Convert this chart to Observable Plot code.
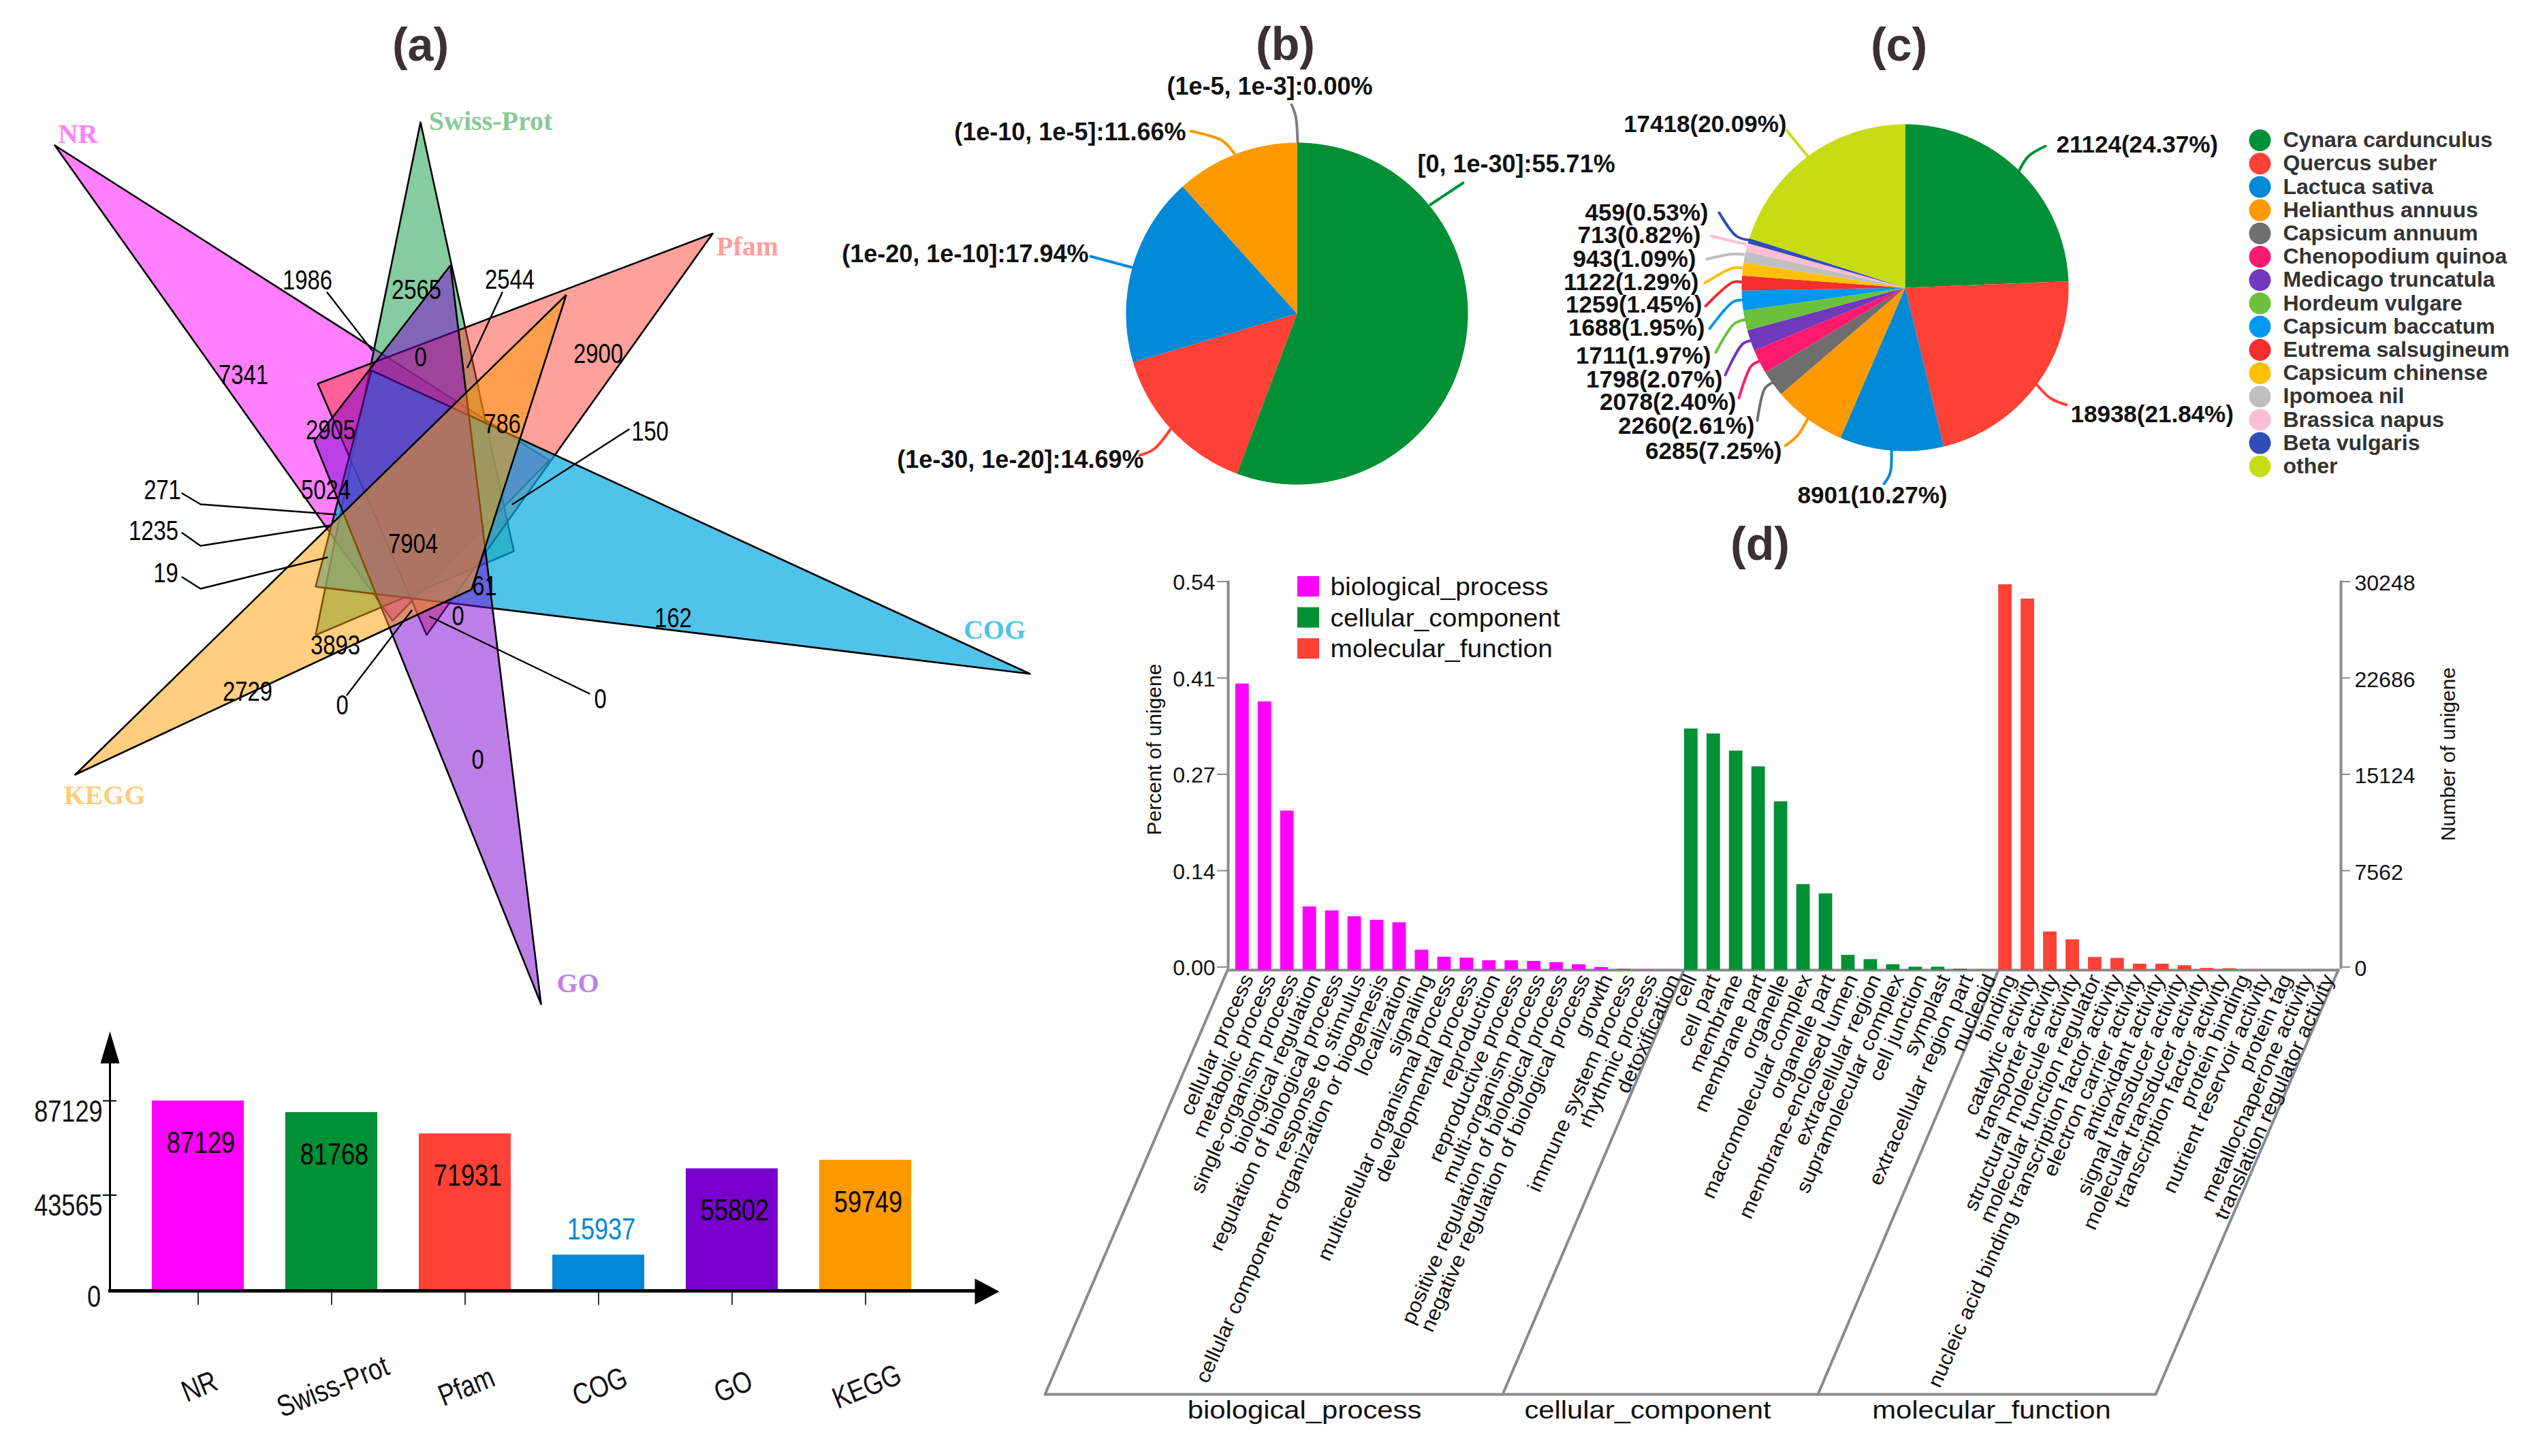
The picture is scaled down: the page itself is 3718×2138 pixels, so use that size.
<!DOCTYPE html>
<html><head><meta charset="utf-8">
<style>
html,body{margin:0;padding:0;background:#fff;overflow:hidden}
#page{position:relative;width:3718px;height:2138px;background:#fff}
#page svg{position:absolute;left:0;top:0;max-width:none;height:2138px;background:transparent}
</style>
<script src="https://cdn.jsdelivr.net/npm/d3@7"></script>
<script src="https://cdn.jsdelivr.net/npm/@observablehq/plot@0.6"></script>
</head><body><div id="page"></div>
<script>
const W = 3718, H = 2138;
const SANS = '"Liberation Sans",Arial,sans-serif';
const SERIF = '"Liberation Serif",serif';

/* (a) upper: Venn labels */
const vennSets = ["NR","Swiss-Prot","Pfam","COG","GO","KEGG"];
const vennFill = ["#ff00ff","#0d9a44","#ff4136","#05aae1","#7b00d0","#ff9d00"];
const vennAlpha = [.5,.5,.5,.7,.5,.5];
const vennName = ["#ff80ff","#88c99a","#ff9f9a","#4fc4ea","#c07fe8","#ffcc7a"];
const vennShape = [
  [[80,213],[806,675.5],[576,911]],
  [[617,179],[754,809],[463,932]],
  [[1046,342.5],[466,563],[626,932]],
  [[1512,989],[545,543.5],[463,861]],
  [[794,1474],[461,647],[661,389]],
  [[110,1137],[831,432.5],[692,865]]
];
const vennNameAt = [[114,197],[720,178],[1097,362],[1460,925],[848,1444],[153,1168]];
const vennCounts = ["7341","1986","2565","2544","0","2900","2905","786","150","5024","271","1235","19","7904","61","0","162","3893","0","2729","0","0"];
const vennCountAt = [[357,551],[451,412],[611,426],[748,411],[617,525],[878,520],[485,632],[737,623],[954,634],[478,720],[238,720],[225,780],[243,842],[606,799],[711,861],[672,905],[988,908],[492,948],[881,1027],[363,1016],[502,1036],[701,1116]];
const vennLeaders = [
  [[480,429],[546,514]],[[737,429],[686,539]],[[923,630],[752,740]],
  [[267,724],[294,740],[493,755]],[[267,782],[294,801],[485,771]],[[267,847],[294,864],[480,818]],
  [[509,1020],[604,896]],[[865,1018],[631,905]]
];

/* (a) lower: bars */
const dbNames = ["NR","Swiss-Prot","Pfam","COG","GO","KEGG"];
const dbCounts = [87129,81768,71931,15937,55802,59749];
const dbColors = ["#ff00ff","#009035","#ff4136","#0089d6","#7800cc","#ff9900"];
const dbTicks = [0,43565,87129];

/* (b) */
const evalNames = ["[0, 1e-30]","(1e-30, 1e-20]","(1e-20, 1e-10]","(1e-10, 1e-5]","(1e-5, 1e-3]"];
const evalShare = [55.71,14.69,17.94,11.66,0.00];
const evalColors = ["#009035","#ff4136","#0089d6","#ff9900","#7f7f7f"];
const evalLabelAt = [[2081,241,"start"],[1679,675,"end"],[1598,373,"end"],[1741,194,"end"],[1864,127,"middle"]];
const evalLeaders = [
  [[2148,268],[2100,300]],
  [[1673,668],[1694,659],[1718,630]],
  [[1601,376],[1661,392]],
  [[1748,192],[1794,206],[1812,225]],
  [[1896,153],[1902,170],[1905,208]]
];

/* (c) */
const speciesNames = ["Cynara cardunculus","Quercus suber","Lactuca sativa","Helianthus annuus","Capsicum annuum","Chenopodium quinoa","Medicago truncatula","Hordeum vulgare","Capsicum baccatum","Eutrema salsugineum","Capsicum chinense","Ipomoea nil","Brassica napus","Beta vulgaris","other"];
const speciesCounts = [21124,18938,8901,6285,2260,2078,1798,1711,1688,1259,1122,943,713,459,17418];
const speciesShare = ["24.37","21.84","10.27","7.25","2.61","2.40","2.07","1.97","1.95","1.45","1.29","1.09","0.82","0.53","20.09"];
const speciesColors = ["#009035","#ff4136","#0089d6","#ff9900","#6e6e6e","#ff1a6e","#7137bd","#6cc13c","#0098f0","#f22e2e","#ffc000","#bfbfbf","#ffbdd6","#2f4db8","#c8dc14"];
const speciesLabelAt = [[3019,212,"start"],[3040,608,"start"],[2749,727,"middle"],[2616,662,"end"],[2576,625,"end"],[2549,590,"end"],[2529,557,"end"],[2512,522,"end"],[2503,481,"end"],[2499,447,"end"],[2494,414,"end"],[2490,380,"end"],[2497,345,"end"],[2508,312,"end"],[2623,182,"end"]];
const speciesLeaders = [
  [[3003,214],[2978,229],[2965,249]],[[2990,564],[3010,584],[3034,594]],[[2777,662],[2775,694],[2766,710]],
  [[2654,614],[2639,639],[2621,654]],[[2603,561],[2591,570],[2580,617]],[[2583,530],[2571,537],[2553,584]],
  [[2569,500],[2558,505],[2533,550]],[[2562,469],[2546,475],[2519,517]],[[2558,440],[2544,443],[2510,482]],
  [[2558,414],[2544,414],[2504,449]],[[2558,393],[2544,393],[2503,415]],[[2560,373],[2540,373],[2506,380]],
  [[2562,358],[2512,346]],[[2567,352],[2549,346],[2524,312]],[[2654,229],[2623,191]]
];

/* (d) */
const goGroups = ["biological_process","cellular_component","molecular_function"];
const goColors = ["#ff00ff","#009035","#ff4136"];
const bpTerms = ["cellular process","metabolic process","single-organism process","biological regulation","regulation of biological process","response to stimulus","cellular component organization or biogenesis","localization","signaling","multicellular organismal process","developmental process","reproduction","reproductive process","multi-organism process","positive regulation of biological process","negative regulation of biological process","growth","immune system process","rhythmic process","detoxification"];
const bpValues = [.401,.376,.223,.0887,.0831,.075,.0699,.0665,.0281,.0183,.017,.0132,.0132,.0124,.0107,.0077,.0038,.0013,.0004,.0002];
const ccTerms = ["cell","cell part","membrane","membrane part","organelle","macromolecular complex","organelle part","membrane-enclosed lumen","extracellular region","supramolecular complex","cell junction","symplast","extracellular region part","nucleoid"];
const ccValues = [.338,.331,.307,.285,.236,.120,.107,.0209,.0149,.0077,.0043,.0043,.0013,.0002];
const mfTerms = ["binding","catalytic activity","transporter activity","structural molecule activity","molecular function regulator","nucleic acid binding transcription factor activity","electron carrier activity","antioxidant activity","signal transducer activity","molecular transducer activity","transcription factor activity","protein binding","nutrient reservoir activity","protein tag","metallochaperone activity","translation regulator activity"];
const mfValues = [.54,.520,.0537,.0426,.0179,.0166,.0085,.0085,.0064,.0026,.0021,.0004,.0001,.0001,.0001,.0001];
const percentTicks = [0,.135,.27,.405,.54];
const percentLabels = ["0.00","0.14","0.27","0.41","0.54"];
const numberLabels = ["0","7562","15124","22686","30248"];

const titles = ["(a)","(b)","(c)","(d)"];
const titleAt = [[617,67],[1887,66],[2788,67],[2584,800]];

const page = document.getElementById("page");
const add = el => page.appendChild(el);
const base = {width:W,height:H,style:{background:"transparent",overflow:"visible"}};

/* glyph widths in the reference differ from the installed face: text marks carry a class, scaled below */
const widthFactor = {narrow:.82, groupwide:1.16, legendwide:1.08, termwide:1.07};

/* pixel-space layer: Venn, titles, leaders, legends, frame of (d) */
const pageScale = {
  x:{domain:[0,W],range:[0,W],axis:null},
  y:{domain:[0,H],range:[0,H],axis:null}
};
const pathLine = (pts,o) => Plot.line(pts,{x:d=>d[0],y:d=>d[1],...o});
const marks = [];
vennShape.forEach((tri,i)=>{
  marks.push(pathLine([...tri,tri[0]],{fill:vennFill[i],fillOpacity:vennAlpha[i],stroke:"#000",strokeWidth:2.6,strokeLinejoin:"miter"}));
});
vennLeaders.forEach(l=>marks.push(pathLine(l,{stroke:"#000",strokeWidth:2.4})));
marks.push(Plot.text(vennCounts,{x:(d,i)=>vennCountAt[i][0],y:(d,i)=>vennCountAt[i][1],text:d=>d,fontFamily:SANS,fontSize:40,fill:"#000",className:"narrow"}));
marks.push(Plot.text(vennSets,{x:(d,i)=>vennNameAt[i][0],y:(d,i)=>vennNameAt[i][1],text:d=>d,fontFamily:SERIF,fontWeight:"bold",fontSize:40,fill:(d,i)=>vennName[i]}));
marks.push(Plot.text(titles,{x:(d,i)=>titleAt[i][0],y:(d,i)=>titleAt[i][1],text:d=>d,fontFamily:SANS,fontWeight:"bold",fontSize:68,fill:"#3a3130"}));
/* bar-chart arrowheads */
marks.push(pathLine([[161,1514],[147,1561],[175,1561],[161,1514]],{fill:"#000",stroke:null}));
marks.push(pathLine([[1467,1896],[1431,1877],[1431,1915],[1467,1896]],{fill:"#000",stroke:null}));
/* (b)(c) leaders and labels */
evalLeaders.forEach((l,i)=>marks.push(pathLine(l,{stroke:evalColors[i],strokeWidth:4,curve:"catmull-rom"})));
speciesLeaders.forEach((l,i)=>marks.push(pathLine(l,{stroke:speciesColors[i],strokeWidth:4,curve:"catmull-rom"})));
["start","end","middle"].forEach(a=>{
  marks.push(Plot.text(evalNames,{x:(d,i)=>evalLabelAt[i][0],y:(d,i)=>evalLabelAt[i][1],textAnchor:a,text:(d,i)=>d+":"+evalShare[i].toFixed(2)+"%",fontFamily:SANS,fontWeight:"bold",fontSize:36,fill:"#111",filter:(d,i)=>evalLabelAt[i][2]===a}));
  marks.push(Plot.text(speciesCounts,{x:(d,i)=>speciesLabelAt[i][0],y:(d,i)=>speciesLabelAt[i][1],textAnchor:a,text:(d,i)=>d+"("+speciesShare[i]+"%)",fontFamily:SANS,fontWeight:"bold",fontSize:35,fill:"#111",filter:(d,i)=>speciesLabelAt[i][2]===a}));
});
/* (c) legend */
marks.push(Plot.dot(speciesNames,{x:()=>3318,y:(d,i)=>205.5+i*34.2,r:16,fill:(d,i)=>speciesColors[i],stroke:null}));
marks.push(Plot.text(speciesNames,{x:()=>3352,y:(d,i)=>205.5+i*34.2,text:d=>d,textAnchor:"start",fontFamily:SANS,fontWeight:"bold",fontSize:32,fill:"#333"}));
/* (d) legend */
marks.push(Plot.rect(goGroups,{x1:()=>1905,x2:()=>1937,y1:(d,i)=>846+i*45.6,y2:(d,i)=>876+i*45.6,fill:(d,i)=>goColors[i]}));
marks.push(Plot.text(goGroups,{x:()=>1953,y:(d,i)=>862+i*45.5,text:d=>d,textAnchor:"start",fontFamily:SANS,fontSize:36,fill:"#111",className:"legendwide"}));
/* (d) slanted frame and group names */
[[[1802,1424],[1534,2047],[3165,2047],[3433,1424]],[[2472,1424],[2206,2047]],[[2934,1424],[2669,2047]]]
  .forEach(l=>marks.push(pathLine(l,{stroke:"#8a8a8a",strokeWidth:4})));
marks.push(Plot.text(goGroups,{x:(d,i)=>[1915,2419,2924][i],y:()=>2071,text:d=>d,fontFamily:SANS,fontSize:36,fill:"#111",className:"groupwide"}));
marks.push(Plot.text(["Percent of unigene"],{x:()=>1695,y:()=>1100,text:d=>d,rotate:-90,fontFamily:SANS,fontSize:30,fill:"#111"}));
marks.push(Plot.text(["Number of unigene"],{x:()=>3595,y:()=>1107,text:d=>d,rotate:-90,fontFamily:SANS,fontSize:30,fill:"#111"}));
/* (d) slanted term labels: the reference spaces each group's labels on its own pitch */
[[bpTerms,1832,32.95],[ccTerms,2483,33.8],[mfTerms,2952,31.13]].forEach(([terms,start,step])=>{
  marks.push(Plot.text(terms,{x:(d,i)=>start+i*step,y:()=>1432,text:d=>d,rotate:-66,textAnchor:"end",fontFamily:SANS,fontSize:30,fill:"#111",className:"termwide"}));
});
add(Plot.plot({...base,margin:0,...pageScale,marks}));

/* (a) lower bar chart */
const dbData = dbNames.map((name,i)=>({name,count:dbCounts[i]}));
add(Plot.plot({...base,marginLeft:161,marginRight:W-1431,marginTop:1560,marginBottom:H-1895,
  x:{type:"band",domain:dbNames,range:[162.5,1399.5],padding:.311,axis:null},
  y:{domain:[0,87129],range:[1893,1616],axis:null},
  color:{domain:dbNames,range:dbColors},
  marks:[
    Plot.barY(dbData,{x:"name",y:"count",fill:"name"}),
    Plot.frame({anchor:"left",stroke:"#000",strokeWidth:3}),
    Plot.frame({anchor:"bottom",stroke:"#000",strokeWidth:5}),
    Plot.axisY({ticks:dbTicks.slice(1),tickSize:20,dx:10,tickFormat:()=>"",strokeWidth:2,label:null}),
    Plot.axisY({ticks:dbTicks.slice(1),tickSize:0,tickPadding:11,dy:16,tickFormat:d=>String(d),fontFamily:SANS,fontSize:44,fill:"#111",className:"narrow",label:null}),
    Plot.text(["0"],{x:()=>"NR",y:()=>0,dx:-153,dy:11,text:d=>d,fontFamily:SANS,fontSize:44,fill:"#111",className:"narrow"}),
    Plot.axisX({tickSize:21,tickFormat:()=>"",strokeWidth:1.6,label:null}),
    Plot.axisX({tickSize:0,tickRotate:-22,tickPadding:141,dx:2,textAnchor:"middle",lineAnchor:"middle",fontFamily:SANS,fontSize:44,fill:"#111",className:"narrow",label:null}),
    Plot.text(dbData.filter(d=>d.name!=="COG"),{x:"name",y:"count",dy:62,dx:4,text:d=>String(d.count),fontFamily:SANS,fontSize:44,fill:"#000",className:"narrow"}),
    Plot.text(dbData.filter(d=>d.name==="COG"),{x:"name",y:"count",dy:-37,dx:4,text:d=>String(d.count),fontFamily:SANS,fontSize:44,fill:"#0089d6",className:"narrow"})
  ]}));

/* pies: slices as filled outlines through linear scales */
function pieRows(names,values){
  const rows=[];
  d3.pie().sort(null)(values).forEach((s,i)=>{
    if (s.endAngle-s.startAngle<1e-6) return;
    const n=Math.max(2,Math.ceil((s.endAngle-s.startAngle)/0.01));
    rows.push({name:names[i],px:0,py:0});
    for(let k=0;k<=n;k++){const a=s.startAngle+(s.endAngle-s.startAngle)*k/n;rows.push({name:names[i],px:Math.sin(a),py:Math.cos(a)});}
    rows.push({name:names[i],px:0,py:0});
  });
  return rows;
}
function pie(names,values,colors,cx,cy,r){
  return Plot.plot({...base,margin:0,
    x:{domain:[-1,1],range:[cx-r,cx+r],axis:null},
    y:{domain:[-1,1],range:[cy+r,cy-r],axis:null},
    color:{domain:names,range:colors},
    marks:[Plot.line(pieRows(names,values),{x:"px",y:"py",z:"name",fill:"name",stroke:null})]});
}
add(pie(evalNames,evalShare,evalColors,1904,460,251));
add(pie(speciesNames,speciesCounts,speciesColors,2797,422,240));

/* (d) bars */
const goRows = [
  ...bpTerms.map((term,i)=>({term,group:goGroups[0],value:bpValues[i]})),
  ...ccTerms.map((term,i)=>({term,group:goGroups[1],value:ccValues[i]})),
  ...mfTerms.map((term,i)=>({term,group:goGroups[2],value:mfValues[i]}))
];
add(Plot.plot({...base,marginLeft:1803,marginRight:W-3437,marginTop:858,marginBottom:H-1424,
  x:{type:"band",domain:goRows.map(d=>d.term),range:[1800.75,3461.4],padding:.399,axis:null},
  y:{domain:[0,.54],axis:null},
  color:{domain:goGroups,range:goColors},
  marks:[
    Plot.frame({anchor:"left",stroke:"#8a8a8a",strokeWidth:4,dy:-4}),
    Plot.frame({anchor:"right",stroke:"#8a8a8a",strokeWidth:4,dy:-4}),
    Plot.frame({anchor:"bottom",stroke:"#8a8a8a",strokeWidth:4,insetRight:4}),
    Plot.barY(goRows,{x:"term",y:"value",fill:"group"}),
    Plot.axisY({ticks:percentTicks,tickSize:16,dy:-4.5,tickFormat:()=>"",stroke:"#8a8a8a",strokeWidth:2,label:null}),
    Plot.axisY({ticks:percentTicks,tickSize:0,tickPadding:19,dy:-2.5,tickFormat:(d,i)=>percentLabels[i],fontFamily:SANS,fontSize:32,fill:"#111",label:null}),
    Plot.axisY({anchor:"right",ticks:percentTicks,tickSize:13,dy:-4.5,tickFormat:()=>"",stroke:"#8a8a8a",strokeWidth:2,label:null}),
    Plot.axisY({anchor:"right",ticks:percentTicks,tickSize:0,tickPadding:20,dy:-1.5,tickFormat:(d,i)=>numberLabels[i],fontFamily:SANS,fontSize:32,fill:"#111",label:null})
  ]}));

Object.entries(widthFactor).forEach(([cls,f])=>{
  page.querySelectorAll("."+cls+" text, text."+cls).forEach(t=>{
    const len=t.getComputedTextLength();
    if(len>0){t.setAttribute("lengthAdjust","spacingAndGlyphs");t.setAttribute("textLength",(len*f).toFixed(1));}
  });
});
</script></body></html>
